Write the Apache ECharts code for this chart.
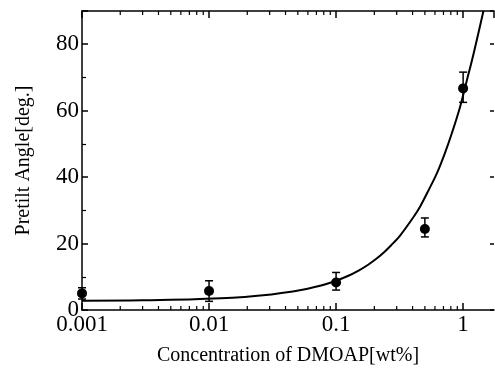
<!DOCTYPE html>
<html>
<head>
<meta charset="utf-8">
<script src="https://cdn.jsdelivr.net/npm/echarts@6/dist/echarts.min.js"></script>
<style>
  html, body { margin: 0; padding: 0; background: #fff; }
  #chart { width: 495px; height: 376px; }
</style>
</head>
<body>
<div id="chart"></div>
<script>
// measured points (concentration wt%, pretilt deg)
const concentration = [0.001, 0.01, 0.1, 0.5, 1];
const pretilt = [5.0, 5.7, 8.3, 24.4, 66.7];
const errLow = [3.3, 2.6, 6.0, 22.0, 62.5];
const errHigh = [6.7, 8.8, 11.3, 27.7, 71.6];

// fitted curve
const fitX = [0.001, 0.003, 0.0124, 0.031, 0.053, 0.075, 0.095, 0.125, 0.154, 0.175, 0.222, 0.283, 0.319, 0.407, 0.458, 0.55, 0.621, 0.72, 0.815, 0.947, 1.06, 1.206, 1.445];
const fitY = [2.8, 2.9, 3.5, 4.7, 6.0, 7.3, 8.5, 10.3, 12.1, 13.4, 16.3, 20.2, 22.4, 28.0, 31.1, 37.0, 41.1, 47.3, 53.2, 61.2, 68.5, 77.0, 90.0];

// minor log ticks 2..9 of each decade
const minorTickValues = [];
[0.001, 0.01, 0.1].forEach(d => {
  for (let k = 2; k <= 9; k++) minorTickValues.push(+(d * k).toPrecision(3));
});

const X_MIN = 0.001, X_MAX = 1.75, Y_MIN = 0, Y_MAX = 90;
const serif = '"Liberation Serif", "DejaVu Serif", serif';

const chart = echarts.init(document.getElementById('chart'), null, { renderer: 'canvas' });

const logAxisBase = {
  type: 'log',
  logBase: 10,
  min: X_MIN,
  max: X_MAX,
  axisLine: { show: true, onZero: false, lineStyle: { color: '#000', width: 1.5 } },
  axisTick: { show: true, inside: true, length: 7, lineStyle: { color: '#000', width: 1.5 } },
  splitLine: { show: false },
  minorTick: { show: false },
  minorSplitLine: { show: false }
};

const option = {
  backgroundColor: '#fff',
  animation: false,
  grid: { left: 82, right: 1, top: 11, bottom: 66 },
  xAxis: [
    Object.assign({}, logAxisBase, {
      position: 'bottom',
      name: 'Concentration of DMOAP[wt%]',
      nameLocation: 'middle',
      nameGap: 36,
      nameTextStyle: { fontFamily: serif, fontSize: 20, color: '#000' },
      axisLabel: {
        fontFamily: serif, fontSize: 23, color: '#000', margin: 3,
        showMaxLabel: false,
        formatter: v => String(+(+v).toPrecision(3))
      }
    }),
    Object.assign({}, logAxisBase, {
      position: 'top',
      axisLabel: { show: false }
    })
  ],
  yAxis: [
    {
      type: 'value',
      position: 'left',
      min: Y_MIN, max: Y_MAX, interval: 20,
      name: 'Pretilt Angle[deg.]',
      nameLocation: 'middle',
      nameGap: 48,
      nameTextStyle: { fontFamily: serif, fontSize: 20, color: '#000' },
      axisLine: { show: true, onZero: false, lineStyle: { color: '#000', width: 1.5 } },
      axisTick: { show: true, inside: true, length: 6, lineStyle: { color: '#000', width: 1.5 } },
      minorTick: { show: true, splitNumber: 2, length: 4, lineStyle: { color: '#000', width: 1.2 } },
      axisLabel: {
        fontFamily: serif, fontSize: 23, color: '#000', margin: 3,
        showMaxLabel: false
      },
      splitLine: { show: false }
    },
    {
      type: 'value',
      position: 'right',
      min: Y_MIN, max: Y_MAX, interval: 20,
      axisLine: { show: false },
      axisTick: { show: true, inside: true, length: 4, lineStyle: { color: '#000', width: 1.5 } },
      axisLabel: { show: false },
      splitLine: { show: false }
    }
  ],
  series: [
    {
      name: 'fit',
      type: 'line',
      data: fitX.map((x, i) => [x, fitY[i]]),
      showSymbol: false,
      smooth: 0.4,
      clip: true,
      lineStyle: { color: '#000', width: 2 }
    },
    {
      name: 'minor ticks',
      type: 'custom',
      data: minorTickValues.map(v => [v]),
      silent: true,
      clip: false,
      renderItem: (params, api) => {
        const v = api.value(0);
        const b = api.coord([v, Y_MIN]);
        const t = api.coord([v, Y_MAX]);
        const style = { stroke: '#000', lineWidth: 1.2 };
        return {
          type: 'group',
          children: [
            { type: 'line', shape: { x1: b[0], y1: b[1], x2: b[0], y2: b[1] - 4 }, style },
            { type: 'line', shape: { x1: t[0], y1: t[1], x2: t[0], y2: t[1] + 4 }, style }
          ]
        };
      }
    },
    {
      name: 'error bars',
      type: 'custom',
      data: concentration.map((x, i) => [x, errLow[i], errHigh[i]]),
      z: 3,
      clip: false,
      renderItem: (params, api) => {
        const x = api.value(0);
        const lo = api.coord([x, api.value(1)]);
        const hi = api.coord([x, api.value(2)]);
        const w = 4;
        const style = { stroke: '#000', lineWidth: 1.5 };
        return {
          type: 'group',
          children: [
            { type: 'line', shape: { x1: lo[0], y1: lo[1], x2: hi[0], y2: hi[1] }, style },
            { type: 'line', shape: { x1: hi[0] - w, y1: hi[1], x2: hi[0] + w, y2: hi[1] }, style },
            { type: 'line', shape: { x1: lo[0] - w, y1: lo[1], x2: lo[0] + w, y2: lo[1] }, style }
          ]
        };
      }
    },
    {
      name: 'measured',
      type: 'scatter',
      data: concentration.map((x, i) => [x, pretilt[i]]),
      symbol: 'circle',
      symbolSize: 10,
      z: 4,
      clip: false,
      itemStyle: { color: '#000', opacity: 1 }
    }
  ]
};

chart.setOption(option);
</script>
</body>
</html>
